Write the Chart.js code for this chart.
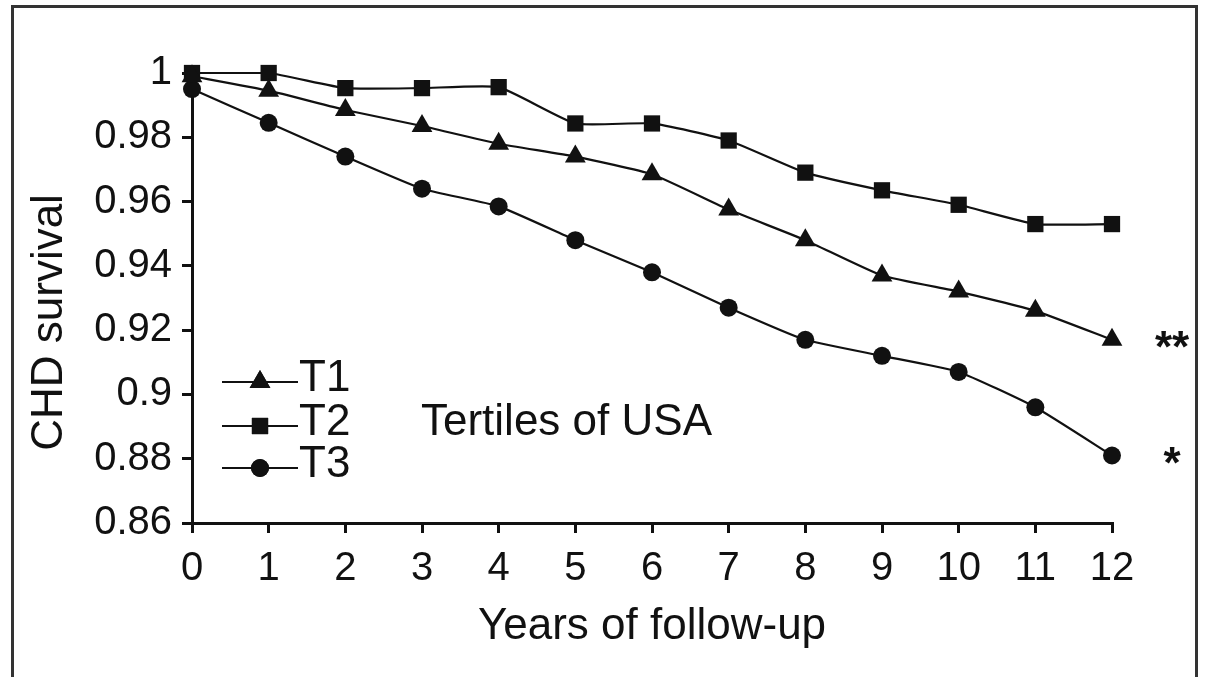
<!DOCTYPE html>
<html>
<head>
<meta charset="utf-8">
<script src="https://cdn.jsdelivr.net/npm/chart.js@4.4.1/dist/chart.umd.min.js"></script>
<style>
  html, body { margin: 0; padding: 0; background: #fff; }
  #wrap { width: 1205px; height: 677px; }
</style>
</head>
<body>
<div id="wrap"><canvas id="c" width="1205" height="677"></canvas></div>
<script>
// ---- data ----
const years = [0, 1, 2, 3, 4, 5, 6, 7, 8, 9, 10, 11, 12];
const seriesNames = ['T1', 'T2', 'T3'];
const t1Survival = [0.999, 0.9945, 0.9885, 0.9835, 0.978, 0.974, 0.9685, 0.9575, 0.948, 0.937, 0.932, 0.926, 0.917];
const t2Survival = [1.0, 1.0, 0.9953, 0.9953, 0.9956, 0.9843, 0.9843, 0.979, 0.969, 0.9635, 0.959, 0.953, 0.953];
const t3Survival = [0.995, 0.9845, 0.974, 0.964, 0.9585, 0.948, 0.938, 0.927, 0.917, 0.912, 0.907, 0.896, 0.881];
const xTickValues = [0, 1, 2, 3, 4, 5, 6, 7, 8, 9, 10, 11, 12];
const yTickValues = [0.86, 0.88, 0.9, 0.92, 0.94, 0.96, 0.98, 1];
const yTickLabels = ['0.86', '0.88', '0.9', '0.92', '0.94', '0.96', '0.98', '1'];
const xAxisTitle = 'Years of follow-up';
const yAxisTitle = 'CHD survival';
const noteText = 'Tertiles of USA';
const significance = ['**', '', '*']; // per series (T1, T2, T3)

const FONT = '"Liberation Sans", Arial, Helvetica, sans-serif';
const INK = '#111';

function ds(label, data, style, radius) {
  return {
    label: label,
    data: years.map((y, i) => ({ x: y, y: data[i] })),
    borderColor: INK,
    backgroundColor: INK,
    borderWidth: 2.2,
    pointStyle: style,
    pointRadius: radius,
    pointBorderWidth: 0,
    pointBackgroundColor: INK,
    pointBorderColor: INK,
    tension: 0.15,
    clip: false
  };
}

const frame = {
  id: 'frame',
  beforeDraw(chart) {
    const ctx = chart.ctx;
    ctx.save();
    ctx.fillStyle = '#fff';
    ctx.fillRect(0, 0, chart.width, chart.height);
    ctx.strokeStyle = '#333';
    ctx.lineWidth = 3;
    ctx.strokeRect(12.5, 6.5, 1184, 720);
    ctx.restore();
  }
};

const legendAndNotes = {
  id: 'legendAndNotes',
  afterDatasetsDraw(chart) {
    const ctx = chart.ctx;
    const xs = chart.scales.x, ys = chart.scales.y;
    ctx.save();
    // in-plot legend
    const rows = [382, 426, 468];
    chart.data.datasets.forEach((d, i) => {
      const y = rows[i];
      ctx.strokeStyle = d.borderColor;
      ctx.lineWidth = d.borderWidth;
      ctx.beginPath();
      ctx.moveTo(222, y);
      ctx.lineTo(298, y);
      ctx.stroke();
      ctx.fillStyle = d.pointBackgroundColor;
      Chart.helpers.drawPoint(ctx, { pointStyle: d.pointStyle, radius: d.pointRadius, borderWidth: 0, rotation: 0 }, 260, y);
      ctx.fill();
      ctx.fillStyle = INK;
      ctx.font = '44px ' + FONT;
      ctx.textAlign = 'left';
      ctx.textBaseline = 'middle';
      ctx.fillText(d.label, 299, y - 3);
    });
    // note
    ctx.font = '44px ' + FONT;
    ctx.textAlign = 'left';
    ctx.textBaseline = 'middle';
    ctx.fillText(noteText, 421, 423);
    // significance markers next to the last point of each series
    ctx.font = 'bold 44px ' + FONT;
    ctx.textAlign = 'center';
    ctx.textBaseline = 'alphabetic';
    chart.data.datasets.forEach((d, i) => {
      if (!significance[i]) return;
      const last = d.data[d.data.length - 1];
      const px = xs.getPixelForValue(last.x) + 60;
      const py = ys.getPixelForValue(last.y);
      ctx.fillText(significance[i], px, py + 22);
    });
    ctx.restore();
  }
};

new Chart(document.getElementById('c'), {
  type: 'line',
  data: {
    datasets: [
      ds(seriesNames[0], t1Survival, 'triangle', 12),
      ds(seriesNames[1], t2Survival, 'rect', 11.5),
      ds(seriesNames[2], t3Survival, 'circle', 9)
    ]
  },
  plugins: [frame, legendAndNotes],
  options: {
    responsive: false,
    animation: false,
    devicePixelRatio: 1,
    layout: { padding: { left: 0, top: 73, right: 93, bottom: 0 } },
    plugins: { legend: { display: false }, tooltip: { enabled: false } },
    scales: {
      x: {
        type: 'linear',
        min: 0, max: 12,
        afterFit(s) { s.height = 154; },
        afterBuildTicks(s) { s.ticks = xTickValues.map(v => ({ value: v })); },
        ticks: {
          color: INK,
          font: { family: FONT, size: 40 },
          padding: 12,
          maxRotation: 0,
          autoSkip: false,
          callback: v => String(v)
        },
        grid: { display: true, drawOnChartArea: false, drawTicks: true, tickLength: 10, color: INK, lineWidth: 3 },
        border: { display: true, color: INK, width: 3 },
        title: {
          display: true,
          text: xAxisTitle,
          color: INK,
          font: { family: FONT, size: 44 },
          padding: { top: 0, bottom: 24 }
        }
      },
      y: {
        type: 'linear',
        min: 0.86, max: 1,
        afterFit(s) { s.width = 192; },
        afterBuildTicks(s) { s.ticks = yTickValues.map(v => ({ value: v })); },
        ticks: {
          color: INK,
          font: { family: FONT, size: 40 },
          padding: 10,
          autoSkip: false,
          callback: (v) => { const k = yTickValues.indexOf(v); return k >= 0 ? yTickLabels[k] : ''; }
        },
        grid: { display: true, drawOnChartArea: false, drawTicks: true, tickLength: 10, color: INK, lineWidth: 3 },
        border: { display: true, color: INK, width: 3 },
        title: {
          display: true,
          text: yAxisTitle + '    ',
          color: INK,
          font: { family: FONT, size: 44 },
          padding: { top: 23, bottom: 0 }
        }
      }
    }
  }
});
</script>
</body>
</html>
